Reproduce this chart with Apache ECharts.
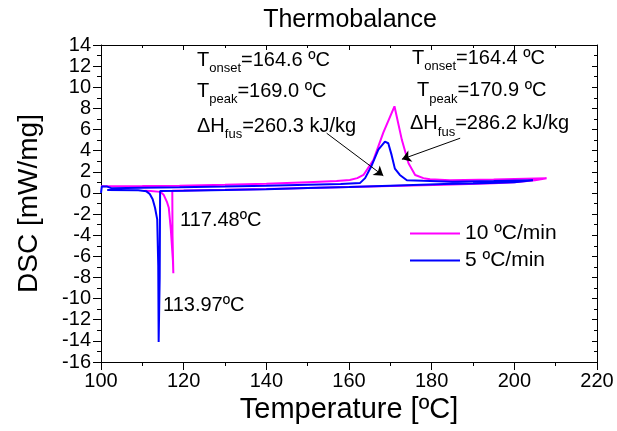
<!DOCTYPE html>
<html>
<head>
<meta charset="utf-8">
<script src="https://cdn.jsdelivr.net/npm/echarts@6/dist/echarts.min.js"></script>
<style>
html,body{margin:0;padding:0;background:#fff;}
#c{width:617px;height:431px;}
</style>
</head>
<body>
<div id="c"></div>
<script>
// ---- data (Temperature [ºC], DSC [mW/mg]) ----
const seriesNames = ['10 ºC/min', '5 ºC/min'];
const xTicks = [100, 120, 140, 160, 180, 200, 220];
const yTicks = [-16, -14, -12, -10, -8, -6, -4, -2, 0, 2, 4, 6, 8, 10, 12, 14];

const rate10Heating = [
  [100, 0.64], [110, 0.66], [119, 0.69], [130, 0.78], [140, 0.88], [150, 1.02],
  [157, 1.12], [160.2, 1.23], [162, 1.4], [163.5, 1.7], [165.9, 3.1], [168.3, 5.7],
  [171.0, 8.2], [172.8, 5.0], [174.4, 2.8], [176.0, 1.7], [178, 1.4], [179.6, 1.3],
  [184.4, 1.2], [195, 1.27], [207.8, 1.39]
];
const rate10Cooling = [
  [205, 1.2], [200, 1.02], [195, 0.92], [183, 0.78], [170, 0.66], [160, 0.56],
  [150, 0.46], [140, 0.37], [130, 0.29], [120, 0.22], [117.25, 0.2], [117.3, -4.0],
  [117.5, -7.6], [117.7, -7.55], [117.4, -6.4], [116.9, -3.5], [116.4, -1.4],
  [116.0, -0.9], [115.2, -0.2], [114.4, 0.1], [112, 0.18], [110.5, 0.2]
];
const rate5Heating = [
  [100, 0.0], [100.2, 0.62], [101.5, 0.6], [102.5, 0.45], [110, 0.5], [119, 0.54],
  [130, 0.6], [140, 0.68], [150, 0.77], [158, 0.85], [162.7, 0.95], [163.9, 1.4],
  [165.5, 2.6], [167.1, 4.1], [168.7, 4.85], [169.5, 4.7], [170.3, 3.6], [171.1, 2.3],
  [172.3, 1.7], [174.0, 1.2], [177.9, 1.15], [185, 1.07], [195, 1.12], [204.5, 1.2]
];
const rate5Cooling = [
  [200, 1.02], [190, 0.9], [183, 0.84], [170, 0.68], [160, 0.56], [150, 0.46],
  [140, 0.36], [130, 0.28], [120, 0.21], [114.3, 0.18], [114.2, -8.0], [113.95, -14.1],
  [113.85, -6.9], [113.6, -2.5], [113.07, -1.4], [112.5, -0.6], [111.8, -0.1],
  [111, 0.15], [109, 0.25], [101.5, 0.28]
];
// annotation arrows: [start, end] in data units
const arrowLeft = [[154.6, 5.65], [168.3, 1.63]];
const arrowRight = [[186.9, 5.18], [172.8, 3.19]];
const peakLabelsLeft = ['164.6', '169.0', '260.3'];
const peakLabelsRight = ['164.4', '170.9', '286.2'];
const dipLabels = ['117.48ºC', '113.97ºC'];

const FONT = 'Arial, "Liberation Sans", sans-serif';
const chart = echarts.init(document.getElementById('c'), null, {renderer: 'canvas'});

const rich = {
  m: {fontSize: 20, lineHeight: 30, verticalAlign: 'middle', fontFamily: FONT, color: '#000'},
  s: {fontSize: 13, lineHeight: 8, verticalAlign: 'bottom', fontFamily: FONT, color: '#000'}
};
function annText(x, y, str) {
  return {type: 'text', x: x, y: y, silent: true, z: 100,
    style: {text: str, rich: rich, fill: '#000', verticalAlign: 'middle', align: 'left', font: '20px ' + FONT}};
}
function plain(x, y, str) {
  return {type: 'text', x: x, y: y, silent: true, z: 100,
    style: {text: str, fill: '#000', verticalAlign: 'middle', align: 'left', font: '20px ' + FONT}};
}

const axisCommon = {
  type: 'value',
  axisLine: {show: true, onZero: false, lineStyle: {color: '#000', width: 1}},
  splitLine: {show: false}
};

const option = {
  animation: false,
  backgroundColor: '#fff',
  title: {
    text: 'Thermobalance', left: 345, top: 3, textAlign: 'center',
    textStyle: {fontSize: 25, fontWeight: 'normal', color: '#000', fontFamily: FONT}
  },
  legend: {
    orient: 'vertical', left: 410, top: 223, padding: 0, itemGap: 6,
    itemWidth: 50, itemHeight: 2, icon: 'rect',
    textStyle: {fontSize: 21, color: '#000', fontFamily: FONT},
    data: seriesNames
  },
  grid: {left: 101, right: 20, top: 45, bottom: 69, containLabel: false},
  xAxis: [
    Object.assign({}, axisCommon, {
      min: xTicks[0], max: xTicks[xTicks.length - 1], interval: 20, position: 'bottom',
      axisTick: {show: true, inside: false, length: 8, lineStyle: {color: '#000'}},
      minorTick: {show: true, splitNumber: 2, length: 4, lineStyle: {color: '#000'}},
      axisLabel: {fontSize: 20, color: '#000', margin: 9, fontFamily: FONT},
      name: 'Temperature [ºC]', nameLocation: 'middle', nameGap: 33,
      nameTextStyle: {fontSize: 29, color: '#000', fontFamily: FONT}
    }),
    Object.assign({}, axisCommon, {
      min: xTicks[0], max: xTicks[xTicks.length - 1], interval: 20, position: 'top',
      axisTick: {show: true, inside: true, length: 5, lineStyle: {color: '#000'}},
      minorTick: {show: true, splitNumber: 2, length: 3, lineStyle: {color: '#000'}},
      axisLabel: {show: false}
    })
  ],
  yAxis: [
    Object.assign({}, axisCommon, {
      min: yTicks[0], max: yTicks[yTicks.length - 1], interval: 2, position: 'left',
      axisTick: {show: true, inside: false, length: 8, lineStyle: {color: '#000'}},
      minorTick: {show: true, splitNumber: 2, length: 4, lineStyle: {color: '#000'}},
      axisLabel: {fontSize: 20, color: '#000', margin: 10, fontFamily: FONT},
      name: 'DSC [mW/mg]', nameLocation: 'middle', nameGap: 58, nameRotate: 90,
      nameTextStyle: {fontSize: 28, color: '#000', fontFamily: FONT}
    }),
    Object.assign({}, axisCommon, {
      min: yTicks[0], max: yTicks[yTicks.length - 1], interval: 2, position: 'right',
      axisTick: {show: true, inside: true, length: 5, lineStyle: {color: '#000'}},
      minorTick: {show: true, splitNumber: 2, length: 3, lineStyle: {color: '#000'}},
      axisLabel: {show: false}
    })
  ],
  series: [
    {
      name: seriesNames[0], type: 'line', xAxisIndex: 0, yAxisIndex: 0,
      data: rate10Heating.concat(rate10Cooling),
      showSymbol: false, symbol: 'none', smooth: false, color: '#ff00ff',
      lineStyle: {color: '#ff00ff', width: 2}
    },
    {
      name: seriesNames[1], type: 'line', xAxisIndex: 0, yAxisIndex: 0,
      data: rate5Heating.concat(rate5Cooling),
      showSymbol: false, symbol: 'none', smooth: false, color: '#0000ff',
      lineStyle: {color: '#0000ff', width: 2},
      markLine: {
        silent: true, symbol: ['none', 'arrow'], symbolSize: 9,
        lineStyle: {color: '#000', width: 1, type: 'solid'},
        label: {show: false},
        data: [
          [{coord: arrowLeft[0]}, {coord: arrowLeft[1]}],
          [{coord: arrowRight[0]}, {coord: arrowRight[1]}]
        ]
      }
    }
  ],
  graphic: [
    annText(197, 60, '{m|T}{s|onset}{m|=' + peakLabelsLeft[0] + ' ºC}'),
    annText(197, 91, '{m|T}{s|peak}{m|=' + peakLabelsLeft[1] + ' ºC}'),
    annText(197, 126, '{m|ΔH}{s|fus}{m|=' + peakLabelsLeft[2] + ' kJ/kg}'),
    annText(412, 58, '{m|T}{s|onset}{m|=' + peakLabelsRight[0] + ' ºC}'),
    annText(417, 90.5, '{m|T}{s|peak}{m|=' + peakLabelsRight[1] + ' ºC}'),
    annText(410, 123.5, '{m|ΔH}{s|fus}{m|=' + peakLabelsRight[2] + ' kJ/kg}'),
    plain(180, 220, dipLabels[0]),
    plain(163, 305, dipLabels[1])
  ]
};
chart.setOption(option);
</script>
</body>
</html>
